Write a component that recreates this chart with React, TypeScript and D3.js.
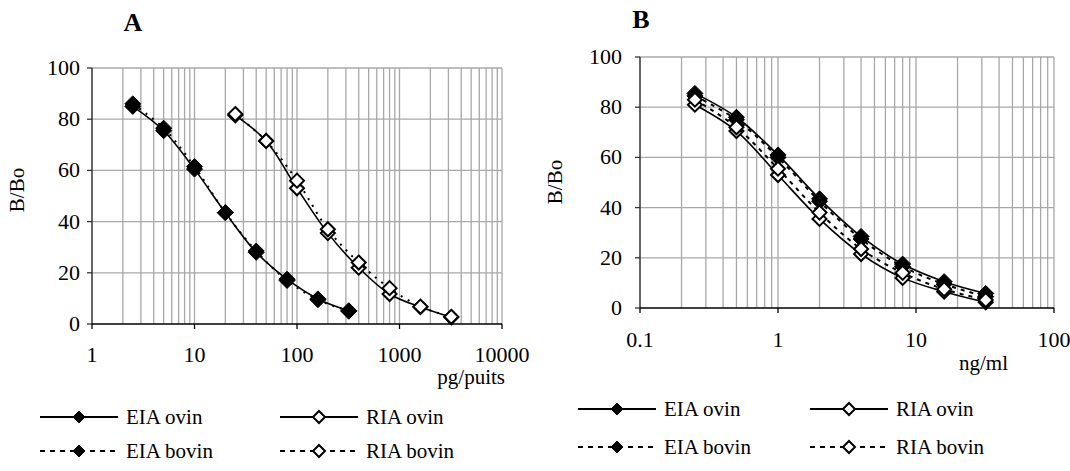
import React from "react";
import * as d3 from "d3";

// panel A : pg/puits
const doseEiaA = [2.5, 5, 10, 20, 40, 80, 160, 320];
const doseRiaA = [25, 50, 100, 200, 400, 800, 1600, 3200];
const eiaOvinA = [85, 75.5, 60.5, 43.5, 28, 17.5, 9.8, 5.2];
const eiaBovinA = [86, 76.5, 61.5, 43.5, 28.5, 17, 9.5, 5];
const riaOvinA = [81.5, 71.5, 53, 35.5, 22, 11.7, 6.6, 2.6];
const riaBovinA = [82, 71.5, 56, 37, 24, 14, 6.8, 2.8];

// panel B : ng/ml
const doseB = [0.25, 0.5, 1, 2, 4, 8, 16, 32];
const eiaOvinB = [85.5, 76, 61, 43.5, 28.5, 17.5, 10.5, 5.8];
const eiaBovinB = [84.5, 75, 60, 42.5, 27.5, 16.5, 9.5, 4.5];
const riaBovinB = [83, 72, 55.5, 38, 23.5, 14, 7.5, 3.2];
const riaOvinB = [81, 70.5, 53, 35.5, 21.5, 12, 6.5, 2.3];

const yTicks = [0, 20, 40, 60, 80, 100];
const xTicksA = [1, 10, 100, 1000, 10000];
const xTicksB = [0.1, 1, 10, 100];
const legendNames = ["EIA ovin", "RIA ovin", "EIA bovin", "RIA bovin"];

const FONT = "Times New Roman, Liberation Serif, DejaVu Serif, serif";

type Series = { x: number[]; y: number[]; filled: boolean; dash: string | null };

const Diamond = ({ cx, cy, r, filled }: { cx: number; cy: number; r: number; filled: boolean }) => (
  <path
    d={`M${cx},${cy - r}L${cx + r},${cy}L${cx},${cy + r}L${cx - r},${cy}Z`}
    fill={filled ? "black" : "white"}
    stroke="black"
    strokeWidth={filled ? 1 : 2}
  />
);

function Panel(props: {
  title: string; titleX: number; titleY: number;
  domain: [number, number]; xr: [number, number]; yr: [number, number];
  xTicks: number[]; tickY: number; labelRight: number; unit: string; unitX: number; unitY: number;
  ylabX: number; ylabY: number; series: Series[];
  legX: number[]; legY: number[];
}) {
  const x = d3.scaleLog().domain(props.domain).range(props.xr);
  const y = d3.scaleLinear().domain([0, 100]).range(props.yr);
  const k0 = Math.round(Math.log10(props.domain[0]));
  const k1 = Math.round(Math.log10(props.domain[1]));
  const grid = d3.range(k0, k1).flatMap(k => d3.range(2, 11).map(m => m * Math.pow(10, k)));
  const line = d3.line<[number, number]>().x(d => x(d[0])).y(d => y(d[1])).curve(d3.curveCatmullRom);
  const [x0, x1] = props.xr;
  const [y0, y1] = props.yr;
  return (
    <g style={{ fontFamily: FONT }}>
      <text x={props.titleX} y={props.titleY} fontSize={26} fontWeight="bold" textAnchor="middle">{props.title}</text>
      {grid.map(t => (
        <line key={"g" + t} x1={x(t)} x2={x(t)} y1={y0} y2={y1} stroke="#a8a8a8" strokeWidth={1.3} />
      ))}
      {yTicks.filter(t => t > 0).map(t => (
        <line key={"h" + t} x1={x0} x2={x1} y1={y(t)} y2={y(t)} stroke="#a8a8a8" strokeWidth={1.3} />
      ))}
      <line x1={x0} x2={x0} y1={y0} y2={y1} stroke="#333" strokeWidth={1.5} />
      <line x1={x0} x2={x1} y1={y0} y2={y0} stroke="black" strokeWidth={1.5} />
      {yTicks.map(t => (
        <g key={"y" + t}>
          <line x1={x0 - 5} x2={x0} y1={y(t)} y2={y(t)} stroke="#333" strokeWidth={1.3} />
          <text x={props.labelRight} y={y(t) + 7} fontSize={22} textAnchor="end">{t}</text>
        </g>
      ))}
      {props.xTicks.map(t => (
        <g key={"x" + t}>
          <line x1={x(t)} x2={x(t)} y1={y0} y2={y0 + 5} stroke="black" strokeWidth={1.3} />
          <text x={x(t)} y={props.tickY} fontSize={22} textAnchor="middle">{t}</text>
        </g>
      ))}
      <text x={props.unitX} y={props.unitY} fontSize={21} textAnchor="end">{props.unit}</text>
      <text transform={`translate(${props.ylabX},${props.ylabY}) rotate(-90)`} fontSize={21} textAnchor="middle">B/Bo</text>
      {props.series.map((s, i) => {
        const pts = s.x.map((v, j) => [v, s.y[j]] as [number, number]);
        return (
          <g key={"s" + i}>
            <path d={line(pts) ?? ""} fill="none" stroke="black" strokeWidth={s.dash ? 2 : 1.6} strokeDasharray={s.dash ?? undefined} />
            {pts.map((p, j) => (
              <Diamond key={j} cx={x(p[0])} cy={y(p[1])} r={s.filled ? 8 : 7} filled={s.filled} />
            ))}
          </g>
        );
      })}
      {props.series.map((s, i) => {
        const col = s.filled ? 0 : 1;
        const row = s.dash ? 1 : 0;
        const lx = props.legX[col];
        const ly = props.legY[row];
        return (
          <g key={"l" + i}>
            <line x1={lx} x2={lx + 78} y1={ly} y2={ly} stroke="black" strokeWidth={2} strokeDasharray={s.dash ? "5,5" : undefined} />
            <Diamond cx={lx + 39} cy={ly} r={6} filled={s.filled} />
            <text x={lx + 86} y={ly + 7} fontSize={21}>{legendNames[row * 2 + col]}</text>
          </g>
        );
      })}
    </g>
  );
}

export default function App() {
  const seriesA: Series[] = [
    { x: doseEiaA, y: eiaOvinA, filled: true, dash: null },
    { x: doseEiaA, y: eiaBovinA, filled: true, dash: "2,6" },
    { x: doseRiaA, y: riaOvinA, filled: false, dash: null },
    { x: doseRiaA, y: riaBovinA, filled: false, dash: "2,6" },
  ];
  const seriesB: Series[] = [
    { x: doseB, y: eiaOvinB, filled: true, dash: null },
    { x: doseB, y: eiaBovinB, filled: true, dash: "4,5" },
    { x: doseB, y: riaOvinB, filled: false, dash: null },
    { x: doseB, y: riaBovinB, filled: false, dash: "4,5" },
  ];
  return (
    <svg width={1070} height={471} style={{ position: "absolute", left: 0, top: 0, background: "white" }}>
      <Panel title="A" titleX={133} titleY={31} domain={[1, 10000]} xr={[92, 502]} yr={[324, 68]}
        xTicks={xTicksA} tickY={362} labelRight={80} unit="pg/puits" unitX={505} unitY={384}
        ylabX={24} ylabY={190} series={seriesA} legX={[40, 280]} legY={[417, 451]} />
      <Panel title="B" titleX={641} titleY={28} domain={[0.1, 100]} xr={[640, 1054]} yr={[308, 57]}
        xTicks={xTicksB} tickY={347} labelRight={622} unit="ng/ml" unitX={1008} unitY={370}
        ylabX={562} ylabY={182} series={seriesB} legX={[578, 810]} legY={[409, 447]} />
    </svg>
  );
}
